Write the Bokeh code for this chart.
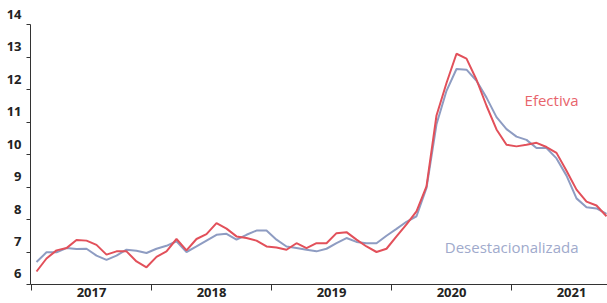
import numpy as np
from bokeh.plotting import figure
from bokeh.models import FixedTicker, Label, Range1d
from bokeh.embed import file_html
from bokeh.resources import INLINE

# Monthly series, January 2017 to October 2021 (percent)
efectiva = [6.4, 6.8, 7.05, 7.12, 7.37, 7.35, 7.22, 6.92, 7.02, 7.02, 6.71, 6.53,
            6.85, 7.02, 7.40, 7.05, 7.40, 7.55, 7.89, 7.72, 7.48, 7.43, 7.35, 7.17,
            7.14, 7.07, 7.27, 7.12, 7.27, 7.27, 7.58, 7.61, 7.38, 7.17, 7.0, 7.10,
            7.48, 7.85, 8.25, 9.02, 11.2, 12.2, 13.1, 12.95, 12.3, 11.5, 10.77, 10.3,
            10.25, 10.3, 10.36, 10.23, 10.05, 9.5, 8.92, 8.55, 8.43, 8.1]
desestacionalizada = [6.69, 6.99, 6.99, 7.12, 7.09, 7.1, 6.89, 6.76, 6.89, 7.07, 7.04, 6.97,
                      7.1, 7.19, 7.33, 7.0, 7.17, 7.35, 7.53, 7.56, 7.38, 7.53, 7.66, 7.66,
                      7.38, 7.17, 7.12, 7.07, 7.02, 7.10, 7.27, 7.43, 7.31, 7.27, 7.27, 7.50,
                      7.71, 7.93, 8.1, 8.97, 10.93, 11.96, 12.63, 12.61, 12.27, 11.75, 11.15, 10.78,
                      10.55, 10.45, 10.2, 10.2, 9.88, 9.35, 8.65, 8.38, 8.34, 8.17]
years = ["2017", "2018", "2019", "2020", "2021"]
yticks = [6, 7, 8, 9, 10, 11, 12, 13, 14]

RED = "#E2505A"
BLUE = "#8E9CC2"
AXIS = "#333333"
FONT = "Open Sans"

n = len(efectiva)
x = np.arange(n) + 0.5          # month centres, in months since Jan 2017
year_starts = [12 * k for k in range(len(years))]
year_mids = [12 * k + 6 for k in range(len(years))]
X0, X1 = -0.1, 57.6

p = figure(width=607, height=303, output_backend="svg", toolbar_location=None,
           x_range=Range1d(X0, X1), y_range=Range1d(yticks[0], yticks[-1]),
           min_border_left=30, min_border_right=0, min_border_top=24, min_border_bottom=19)
p.outline_line_color = None
p.grid.visible = False
p.background_fill_color = "white"
p.border_fill_color = "white"

xa = p.xaxis[0]
xa.ticker = FixedTicker(ticks=year_mids, minor_ticks=year_starts)
xa.major_label_overrides = {m: y for m, y in zip(year_mids, years)}
xa.major_tick_line_color = None
xa.major_tick_out = 0
xa.major_tick_in = 0
xa.minor_tick_out = 6
xa.minor_tick_in = 0
xa.minor_tick_line_color = AXIS
xa.axis_line_color = AXIS
xa.major_label_standoff = -3
xa.major_label_text_font = FONT
xa.major_label_text_font_size = "13px"
xa.major_label_text_font_style = "bold"
xa.major_label_text_color = "#222222"

ya = p.yaxis[0]
ya.ticker = FixedTicker(ticks=yticks, minor_ticks=[])
# labels sit just above their tick marks, as in the original
ya.major_label_overrides = {v: f"{v}\n " for v in yticks}
ya.major_tick_out = 4
ya.major_tick_in = 0
ya.major_tick_line_color = AXIS
ya.axis_line_color = AXIS
ya.major_label_standoff = 5
ya.major_label_text_font = FONT
ya.major_label_text_font_size = "13px"
ya.major_label_text_font_style = "bold"
ya.major_label_text_color = "#222222"

p.line(x, desestacionalizada, color=BLUE, line_width=2)
p.line(x, efectiva, color=RED, line_width=2)

p.add_layout(Label(x=54.7, y=11.69, text="Efectiva", text_align="right",
                   text_baseline="middle", text_font=FONT, text_font_size="15px",
                   text_color="#E8646C"))
p.add_layout(Label(x=54.7, y=7.14, text="Desestacionalizada", text_align="right",
                   text_baseline="middle", text_font=FONT, text_font_size="15px",
                   text_color="#A0AACC"))

open("out.html", "w").write(file_html(p, INLINE))
